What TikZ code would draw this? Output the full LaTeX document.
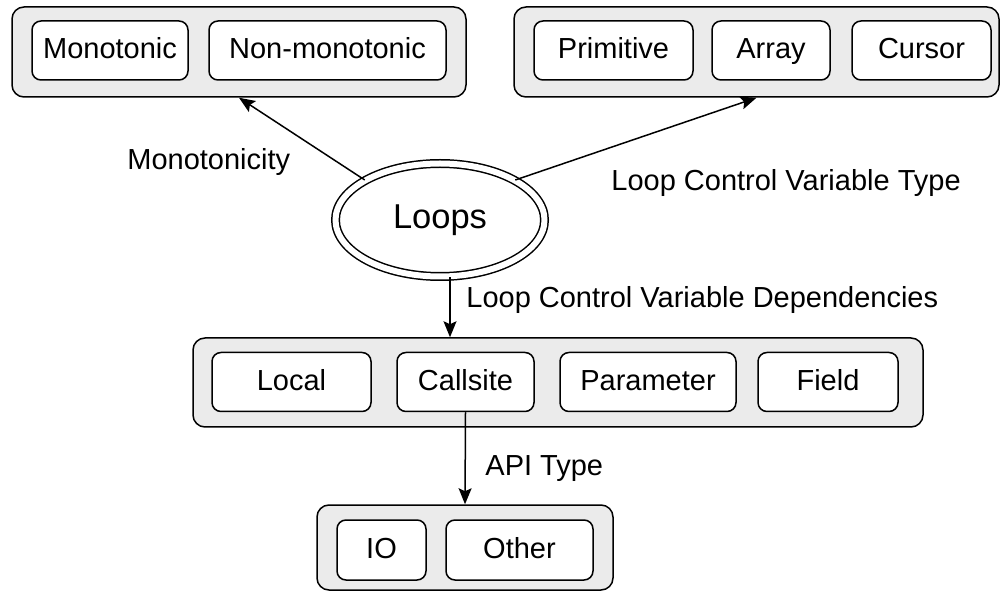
\documentclass[tikz,border=0pt]{standalone}
\usepackage{fontspec}
\setmainfont{Liberation Sans}
\usetikzlibrary{arrows.meta,shapes.geometric}
\definecolor{grp}{HTML}{EBEBEB}
\begin{document}
\begin{tikzpicture}[x=0.5pt,y=-0.5pt,
  grpbox/.style={draw,line width=0.75pt,fill=grp,rounded corners=6pt,inner sep=0pt},
  itembox/.style={draw,line width=0.75pt,fill=white,rounded corners=4.5pt,inner sep=0pt,
     minimum height=29.5pt,text height=11pt,text depth=2.5pt,font=\fontsize{14.5pt}{17pt}\selectfont},
  lbl/.style={font=\fontsize{14.5pt}{17pt}\selectfont,inner sep=0pt},
  arr/.style={line width=0.75pt,-{Stealth[length=8pt,width=6.5pt,inset=1.5pt]}}]
\useasboundingbox (0,0) rectangle (1000,592);
% groups
\node[grpbox,minimum width=227pt,minimum height=45pt] (g1) at (239,52) {};
\node[grpbox,minimum width=242.5pt,minimum height=45pt] (g2) at (756.5,52) {};
\node[grpbox,minimum width=365pt,minimum height=44.5pt] (g3) at (558,382.5) {};
\node[grpbox,minimum width=148pt,minimum height=42.5pt] (g4) at (465,547.5) {};
% items
\node[itembox,minimum width=78pt] (mono) at (110,50.5) {Monotonic};
\node[itembox,minimum width=118.5pt] (nonmono) at (327.5,50.5) {Non-monotonic};
\node[itembox,minimum width=79.5pt] (prim) at (613.5,50.5) {Primitive};
\node[itembox,minimum width=59pt] (array) at (771,50.5) {Array};
\node[itembox,minimum width=69.5pt] (cursor) at (921.5,50.5) {Cursor};
\node[itembox,minimum width=79.5pt] (local) at (291.5,382) {Local};
\node[itembox,minimum width=68.5pt] (callsite) at (465.5,382) {Callsite};
\node[itembox,minimum width=88pt] (param) at (648,382) {Parameter};
\node[itembox,minimum width=70pt] (field) at (828,382) {Field};
\node[itembox,minimum width=44.5pt,minimum height=30pt] (io) at (381.5,550) {IO};
\node[itembox,minimum width=73.5pt,minimum height=30pt] (other) at (519.5,550) {Other};
% central ellipse
\node[ellipse,draw,double,double distance=3pt,line width=0.75pt,inner sep=0pt,
  minimum width=104.5pt,minimum height=56.5pt,font=\fontsize{17.25pt}{20pt}\selectfont]
  (loops) at (440,220) {Loops};
% connectors
\coordinate (d1) at (450,0);
\draw[arr] (loops.152) -- (g1.south);
\draw[arr] (loops.28) -- (g2.south);
\draw[arr] (loops.south -| d1) -- (g3.north -| d1);
\draw[arr] (callsite.south) -- (g4.north);
% labels
\node[lbl,anchor=base west] (l1) at (127,170) {Monotonicity};
\node[lbl,anchor=base west] (l2) at (611,191) {Loop Control Variable Type};
\node[lbl,anchor=base west] (l3) at (466,308) {Loop Control Variable Dependencies};
\node[lbl,anchor=base west] (l4) at (485,475) {API Type};
\end{tikzpicture}
\end{document}
